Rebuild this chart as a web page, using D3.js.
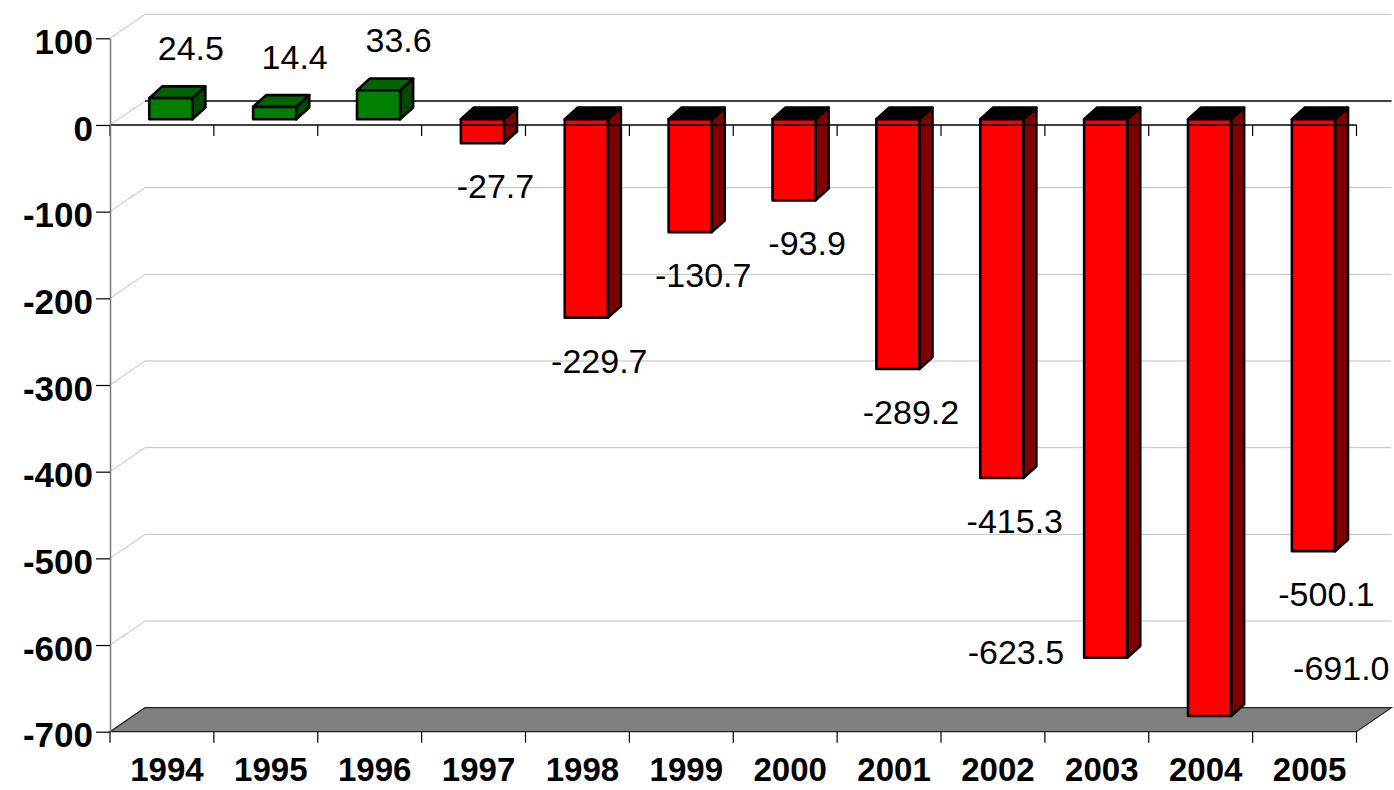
<!DOCTYPE html>
<html>
<head>
<meta charset="utf-8">
<script src="https://cdn.jsdelivr.net/npm/d3@7"></script>
<style>
  html, body { margin: 0; padding: 0; background: #ffffff; }
  svg { display: block; }
  text { font-family: "Liberation Sans", Arial, Helvetica, sans-serif; }
</style>
</head>
<body>
<svg id="chart" width="1394" height="790"></svg>
<script>
// ---- data ----
const years = ["1994","1995","1996","1997","1998","1999","2000","2001","2002","2003","2004","2005"];
const balance = [24.5, 14.4, 33.6, -27.7, -229.7, -130.7, -93.9, -289.2, -415.3, -623.5, -691.0, -500.1];
const labels = ["24.5","14.4","33.6","-27.7","-229.7","-130.7","-93.9","-289.2","-415.3","-623.5","-691.0","-500.1"];
const yTicks = [100, 0, -100, -200, -300, -400, -500, -600, -700];

// ---- layout ----
const W = 1394, H = 790;
const left = 110, right = 1356.5;
const depthX = 35, depthY = -24;          // floor / wall depth
const barDX = 13, barDY = -11.7;           // bar depth
const svg = d3.select("#chart");

const x = d3.scaleBand().domain(years).range([left, right]).padding(0);
const bw = x.bandwidth();
const y = d3.scaleLinear().domain([-700, 100]).range([731.7, 38.3]);
const yb = d3.scaleLinear().domain([-700, 100]).range([723.8, 32.9]); // bars (set back a little)

const floorFront = y(-700), floorBack = y(-700) + depthY;

// ---- back wall gridlines ----
const grid = svg.append("g");
yTicks.filter(t => t !== -700).forEach(t => {
  const gy = y(t);
  grid.append("line")
    .attr("x1", left).attr("y1", gy).attr("x2", left + depthX).attr("y2", gy + depthY)
    .attr("stroke", "#c0c0c0").attr("stroke-width", 1);
  grid.append("line")
    .attr("x1", left + depthX).attr("y1", gy + depthY).attr("x2", right + depthX).attr("y2", gy + depthY)
    .attr("stroke", t === 0 ? "#000" : "#c0c0c0").attr("stroke-width", t === 0 ? 1.5 : 1);
});

// ---- floor ----
svg.append("polygon")
  .attr("points", [[left, floorFront],[right, floorFront],[right + depthX, floorBack],[left + depthX, floorBack]].map(p => p.join(",")).join(" "))
  .attr("fill", "#808080").attr("stroke", "#222").attr("stroke-width", 1.2);

// ---- bars ----
const colors = {
  pos: { front: "#008000", top: "#006400", side: "#004a00" },
  neg: { front: "#ff0000", top: "#000000", side: "#800000" }
};
const barG = svg.append("g");
const barBoxes = [];
years.forEach((yr, i) => {
  const v = balance[i];
  const c = v >= 0 ? colors.pos : colors.neg;
  const x0 = x(yr) + 0.378 * bw, x1 = x0 + 0.415 * bw;
  const yTop = yb(Math.max(v, 0)), yBot = yb(Math.min(v, 0));
  const g = barG.append("g")
    .attr("stroke", "#000").attr("stroke-width", 2.6).attr("stroke-linejoin", "round");
  g.append("polygon")
    .attr("points", [[x1, yTop],[x1 + barDX, yTop + barDY],[x1 + barDX, yBot + barDY],[x1, yBot]].map(p => p.join(",")).join(" "))
    .attr("fill", c.side);
  g.append("polygon")
    .attr("points", [[x0, yTop],[x1, yTop],[x1 + barDX, yTop + barDY],[x0 + barDX, yTop + barDY]].map(p => p.join(",")).join(" "))
    .attr("fill", c.top);
  g.append("rect")
    .attr("x", x0).attr("y", yTop).attr("width", x1 - x0).attr("height", yBot - yTop)
    .attr("fill", c.front);
  barBoxes.push({ x0: x0, x1: x1 + barDX, y0: yTop + barDY, y1: yBot, v: v });
});

// ---- front zero line & category ticks ----
const axisG = svg.append("g");
axisG.append("line")
  .attr("x1", left).attr("y1", y(0)).attr("x2", right).attr("y2", y(0))
  .attr("stroke", "#000").attr("stroke-width", 1.5);
const bounds = d3.range(years.length + 1).map(k => left + k * bw);
axisG.selectAll("line.tz").data(bounds).join("line").attr("class", "tz")
  .attr("x1", d => d).attr("x2", d => d).attr("y1", y(0)).attr("y2", y(0) + 11)
  .attr("stroke", "#000").attr("stroke-width", 1.2);
axisG.selectAll("line.tb").data(bounds).join("line").attr("class", "tb")
  .attr("x1", d => d).attr("x2", d => d).attr("y1", floorFront).attr("y2", floorFront + 11)
  .attr("stroke", "#000").attr("stroke-width", 1.2);

// ---- y axis ----
const yAxis = svg.append("g").attr("transform", `translate(${left},0)`)
  .call(d3.axisLeft(y).tickValues(yTicks).tickSize(14).tickSizeOuter(0).tickPadding(3).tickFormat(d3.format("d")));
yAxis.select(".domain").attr("stroke", "#777").attr("stroke-width", 1.5);
yAxis.selectAll(".tick line").attr("stroke", "#000").attr("stroke-width", 1.2);
yAxis.selectAll(".tick text")
  .attr("fill", "#000").attr("font-size", 35).attr("font-weight", "bold")
  .attr("font-family", "'Liberation Sans', Arial, sans-serif")
  .attr("dy", "0.43em");
yAxis.selectAll(".tick text").text(d => d3.format("d")(d).replace("−", "-"));

// ---- category labels ----
svg.append("g").selectAll("text").data(years).join("text")
  .attr("x", d => x(d) + bw / 2 + 5).attr("y", 781)
  .attr("text-anchor", "middle").attr("font-size", 33).attr("font-weight", "bold")
  .attr("fill", "#000").text(d => d);

// ---- data labels ----
const labG = svg.append("g");
const fs = 34;
const placed = [];
function overlaps(a, b) { return a.x0 < b.x1 && a.x1 > b.x0 && a.y0 < b.y1 && a.y1 > b.y0; }
years.forEach((yr, i) => {
  const v = balance[i];
  const b = barBoxes[i];
  const cx = (b.x0 + b.x1 - barDX) / 2;
  const t = labG.append("text").attr("font-size", fs).attr("fill", "#000").text(labels[i]);
  const tw = t.node().getComputedTextLength();
  let px, py, anchor = "middle";
  if (v >= 0) {
    px = cx + 20; py = b.y0 - barDY - 38;
  } else {
    px = cx + 13; py = b.y1 + 55;
    if (py + 8 > floorBack) {
      // try left of the bar
      const by = Math.min(b.y1 + 6, floorBack - 28);
      const leftBox = { x0: b.x0 - 20 - tw - 8, x1: b.x0 - 12, y0: by - 30, y1: by + 12 };
      const hit = barBoxes.some((o, j) => j !== i && overlaps(leftBox, o)) || placed.some(o => overlaps(leftBox, o));
      if (!hit) { px = b.x0 - 20; py = by; anchor = "end"; }
      else { px = right + depthX - 2; py = by; anchor = "end"; }
    }
  }
  t.attr("x", px).attr("y", py).attr("text-anchor", anchor);
  const bx0 = anchor === "end" ? px - tw : px - tw / 2;
  placed.push({ x0: bx0, x1: bx0 + tw, y0: py - 26, y1: py + 8 });
});
</script>
</body>
</html>
